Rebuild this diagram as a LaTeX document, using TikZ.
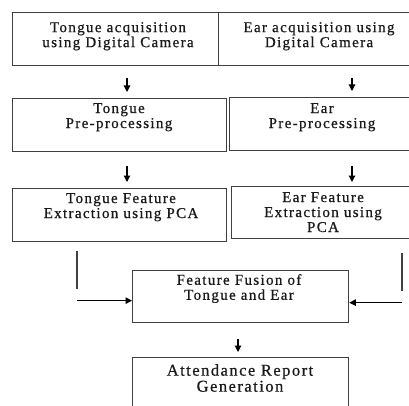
\documentclass[tikz,border=0pt]{standalone}
\usepackage{fontspec}
\setmainfont{Liberation Serif}
\newfontfamily\boxfont[LetterSpace=9,FakeBold=0.6]{Liberation Serif}
\usetikzlibrary{arrows.meta}
\tikzset{
  box/.style={draw=black!75, line width=1.3pt, rectangle, inner sep=0pt, anchor=north west},
  txt/.style={anchor=north, inner sep=0pt, align=center, text=black!90, font=\boxfont\fontsize{15}{15}\selectfont},
  bigtxt/.style={anchor=north, inner sep=0pt, align=center, text=black!90, font=\boxfont\fontsize{16.5}{16}\selectfont},
  arr/.style={draw=black, line width=1.1pt, -{Triangle[length=6.5pt,width=6.5pt]}},
  ln/.style={draw=black!75, line width=1.3pt}
}
\begin{document}
\begin{tikzpicture}[x=1pt,y=-1pt]
\useasboundingbox (0,0) rectangle (409,406);
\fill[white] (0,0) rectangle (409,406);
\clip (0,0) rectangle (409,406);
% boxes
\node[box, minimum width=206pt, minimum height=53pt] (a1) at (12,12) {};
\node[box, minimum width=195pt, minimum height=53pt] (b1) at (218,12) {};
\node[box, minimum width=214pt, minimum height=53pt] (a2) at (12,98) {};
\node[box, minimum width=184pt, minimum height=53pt] (b2) at (229,97) {};
\node[box, minimum width=214pt, minimum height=53pt] (a3) at (12,188) {};
\node[box, minimum width=182pt, minimum height=52pt] (b3) at (231,186) {};
\node[box, minimum width=216pt, minimum height=52pt] (f) at (132,270) {};
\node[box, minimum width=216pt, minimum height=70pt] (r) at (132,357) {};
% texts
\node[txt] (ta1) at (118,22) {Tongue acquisition\\using Digital Camera};
\node[txt] (tb1) at (319,22) {Ear acquisition using\\Digital Camera};
\node[txt] (ta2) at (119,103) {Tongue\\Pre-processing};
\node[txt] (tb2) at (322,103) {Ear\\Pre-processing};
\node[txt] (ta3) at (121,193) {Tongue Feature\\Extraction using PCA};
\node[txt] (tb3) at (323,192) {Ear Feature\\Extraction using\\PCA};
\node[txt] (tf) at (239,274) {Feature Fusion of\\Tongue and Ear};
\node[bigtxt] (tr) at (240,364) {Attendance Report\\Generation};
% column coordinates
\coordinate (xl) at (127,0);
\coordinate (xr) at (352,0);
\coordinate (xfl) at (77,0);
\coordinate (xfr) at (402,0);
\coordinate (xm) at (238,0);
% arrows
\draw[arr] ([yshift=-12pt]a1.south -| xl) -- ([yshift=6pt]a2.north -| xl);
\draw[arr] ([yshift=-12pt]b1.south -| xr) -- ([yshift=6pt]b2.north -| xr);
\draw[arr] ([yshift=-14pt]a2.south -| xl) -- ([yshift=6pt]a3.north -| xl);
\draw[arr] ([yshift=-15pt]b2.south -| xr) -- ([yshift=4pt]b3.north -| xr);
\draw[ln] ([yshift=-9pt]a3.south -| xfl) -- ++(0,38);
\draw[arr] ([yshift=-4pt]f.west -| xfl) -- ([yshift=-4pt]f.west);
\draw[ln] ([yshift=-14pt]b3.south -| xfr) -- ++(0,38);
\draw[arr] ([yshift=-6pt]f.east -| xfr) -- ([yshift=-6pt]f.east);
\draw[arr] ([yshift=-16pt]f.south -| xm) -- ([yshift=5pt]r.north -| xm);
\end{tikzpicture}
\end{document}
